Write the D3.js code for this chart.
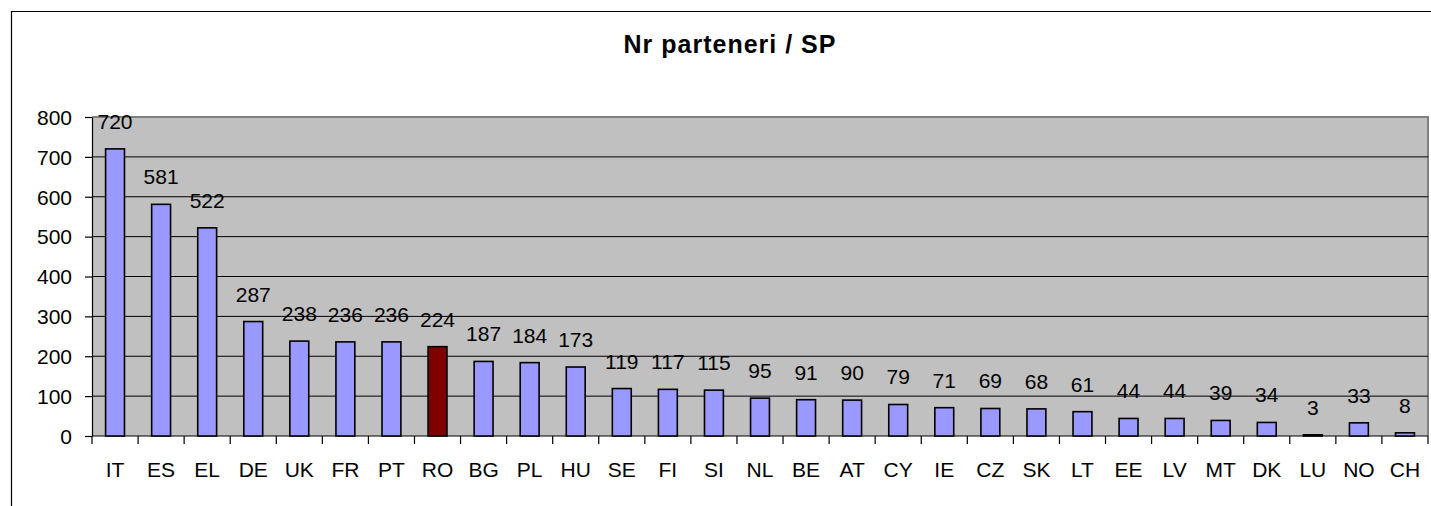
<!DOCTYPE html>
<meta charset="utf-8">
<head>
    <title>Nr parteneri / SP</title>
    <script src="https://d3js.org/d3.v7.min.js"></script>
    <style>
        body { margin: 0; background: #fff; overflow: hidden; }
        svg { display: block; font-family: 'Liberation Sans', Arial, sans-serif; }
        text { fill: #000; }
        .bar { fill: #9999ff; stroke: #000; stroke-width: 1.6; }
        .bar.hl { fill: #800000; }
        .grid line { stroke: #000; stroke-width: 1; }
        .axis path, .axis line { stroke: #000; stroke-width: 1.2; }
        .axis text { font-size: 21px; }
        text.value { font-size: 21px; }
        text.title { font-size: 25px; font-weight: bold; letter-spacing: 1px; }
    </style>
</head>
<body>
<svg width="1431" height="506"></svg>
<script>
    const categories = ['IT', 'ES', 'EL', 'DE', 'UK', 'FR', 'PT', 'RO', 'BG', 'PL', 'HU', 'SE', 'FI', 'SI',
        'NL', 'BE', 'AT', 'CY', 'IE', 'CZ', 'SK', 'LT', 'EE', 'LV', 'MT', 'DK', 'LU', 'NO', 'CH'];
    const values = [720, 581, 522, 287, 238, 236, 236, 224, 187, 184, 173, 119, 117, 115,
        95, 91, 90, 79, 71, 69, 68, 61, 44, 44, 39, 34, 3, 33, 8];
    const yTicks = [0, 100, 200, 300, 400, 500, 600, 700, 800];
    const highlight = 'RO';
    const title = 'Nr parteneri / SP';

    const svg = d3.select('svg');

    const plotLeft = 92, plotRight = 1428, plotTop = 117, plotBottom = 436;

    // outer chart frame (extends beyond the picture on right and bottom)
    svg.append('path')
        .attr('d', 'M11.5,520V11.5H1445')
        .attr('fill', 'none').attr('stroke', '#000').attr('stroke-width', 1.2);

    const xScale = d3.scaleBand().domain(categories).range([plotLeft, plotRight]).padding(0);
    const yScale = d3.scaleLinear().domain([0, 800]).range([plotBottom, plotTop]);

    // plot area
    svg.append('rect')
        .attr('x', plotLeft).attr('y', plotTop)
        .attr('width', plotRight - plotLeft).attr('height', plotBottom - plotTop)
        .attr('fill', '#c0c0c0');
    svg.append('path')
        .attr('d', `M${plotLeft},${plotTop}H${plotRight}V${plotBottom}`)
        .attr('fill', 'none').attr('stroke', '#808080').attr('stroke-width', 2);

    svg.append('g')
        .attr('class', 'grid')
        .selectAll('line')
        .data(yTicks.filter(t => t > 0 && t < 800))
        .join('line')
        .attr('x1', plotLeft).attr('x2', plotRight)
        .attr('y1', d => yScale(d)).attr('y2', d => yScale(d));

    // y axis
    svg.append('g')
        .attr('class', 'axis')
        .attr('transform', `translate(${plotLeft},0)`)
        .call(d3.axisLeft(yScale).tickValues(yTicks).tickSize(7).tickSizeOuter(0).tickPadding(13))
        .call(g => g.selectAll('text').attr('dy', '0.35em'));

    // x axis: ticks at category boundaries
    const xAxis = svg.append('g').attr('class', 'axis');
    xAxis.append('line')
        .attr('x1', plotLeft).attr('x2', plotRight)
        .attr('y1', plotBottom).attr('y2', plotBottom);
    xAxis.selectAll('line.tick')
        .data(categories.concat(['end']))
        .join('line')
        .attr('class', 'tick')
        .attr('x1', (d, i) => plotLeft + i * xScale.step())
        .attr('x2', (d, i) => plotLeft + i * xScale.step())
        .attr('y1', plotBottom).attr('y2', plotBottom + 8);
    xAxis.selectAll('text')
        .data(categories)
        .join('text')
        .attr('x', d => xScale(d) + xScale.bandwidth() / 2)
        .attr('y', 477)
        .attr('text-anchor', 'middle')
        .text(d => d);

    const bw = xScale.bandwidth() * 0.41;

    const bars = svg.append('g').selectAll('g')
        .data(categories.map((c, i) => ({c, v: values[i]})))
        .join('g');

    bars.append('rect')
        .attr('class', d => d.c === highlight ? 'bar hl' : 'bar')
        .attr('x', d => xScale(d.c) + (xScale.bandwidth() - bw) / 2)
        .attr('y', d => yScale(d.v))
        .attr('width', bw)
        .attr('height', d => plotBottom - yScale(d.v));

    bars.append('text')
        .attr('class', 'value')
        .attr('x', d => xScale(d.c) + xScale.bandwidth() / 2)
        .attr('y', d => yScale(d.v) - 20)
        .attr('text-anchor', 'middle')
        .text(d => d.v);

    svg.append('text')
        .attr('class', 'title')
        .attr('x', 730)
        .attr('y', 53)
        .attr('text-anchor', 'middle')
        .text(title);
</script>
</body>
